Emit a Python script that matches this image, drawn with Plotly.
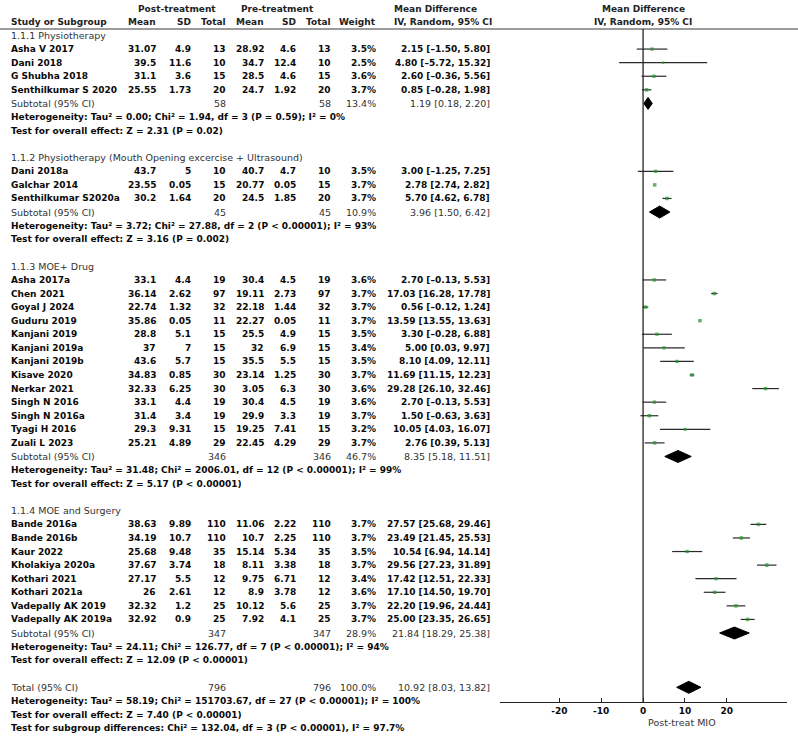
import plotly.graph_objects as go

W, H = 798, 738
FONT = "DejaVu Sans"
FS = 9

# ---------------- data ----------------
study = ["Asha V 2017", "Dani 2018", "G Shubha 2018", "Senthilkumar S 2020",
         "Dani 2018a", "Galchar 2014", "Senthilkumar S2020a",
         "Asha 2017a", "Chen 2021", "Goyal J 2024", "Guduru 2019", "Kanjani 2019",
         "Kanjani 2019a", "Kanjani 2019b", "Kisave 2020", "Nerkar 2021", "Singh N 2016",
         "Singh N 2016a", "Tyagi H 2016", "Zuali L 2023",
         "Bande 2016a", "Bande 2016b", "Kaur 2022", "Kholakiya 2020a", "Kothari 2021",
         "Kothari 2021a", "Vadepally AK 2019", "Vadepally AK 2019a"]
group = [0, 0, 0, 0,
         1, 1, 1,
         2, 2, 2, 2, 2, 2, 2, 2, 2, 2, 2, 2, 2,
         3, 3, 3, 3, 3, 3, 3, 3]
post_mean = [31.07, 39.5, 31.1, 25.55,
             43.7, 23.55, 30.2,
             33.1, 36.14, 22.74, 35.86, 28.8, 37, 43.6, 34.83, 32.33, 33.1, 31.4, 29.3, 25.21,
             38.63, 34.19, 25.68, 37.67, 27.17, 26, 32.32, 32.92]
post_sd = [4.9, 11.6, 3.6, 1.73,
           5, 0.05, 1.64,
           4.4, 2.62, 1.32, 0.05, 5.1, 7, 5.7, 0.85, 6.25, 4.4, 3.4, 9.31, 4.89,
           9.89, 10.7, 9.48, 3.74, 5.5, 2.61, 1.2, 0.9]
post_n = [13, 10, 15, 20,
          10, 15, 20,
          19, 97, 32, 11, 15, 15, 15, 30, 30, 19, 19, 15, 29,
          110, 110, 35, 18, 12, 12, 25, 25]
pre_mean = [28.92, 34.7, 28.5, 24.7,
            40.7, 20.77, 24.5,
            30.4, 19.11, 22.18, 22.27, 25.5, 32, 35.5, 23.14, 3.05, 30.4, 29.9, 19.25, 22.45,
            11.06, 10.7, 15.14, 8.11, 9.75, 8.9, 10.12, 7.92]
pre_sd = [4.6, 12.4, 4.6, 1.92,
          4.7, 0.05, 1.85,
          4.5, 2.73, 1.44, 0.05, 4.9, 6.9, 5.5, 1.25, 6.3, 4.5, 3.3, 7.41, 4.29,
          2.22, 2.25, 5.34, 3.38, 6.71, 3.78, 5.6, 4.1]
pre_n = [13, 10, 15, 20,
         10, 15, 20,
         19, 97, 32, 11, 15, 15, 15, 30, 30, 19, 19, 15, 29,
         110, 110, 35, 18, 12, 12, 25, 25]
weight = [3.5, 2.5, 3.6, 3.7,
          3.5, 3.7, 3.7,
          3.6, 3.7, 3.7, 3.7, 3.5, 3.4, 3.5, 3.7, 3.6, 3.6, 3.7, 3.2, 3.7,
          3.7, 3.7, 3.5, 3.7, 3.4, 3.6, 3.7, 3.7]
md = [2.15, 4.80, 2.60, 0.85,
      3.00, 2.78, 5.70,
      2.70, 17.03, 0.56, 13.59, 3.30, 5.00, 8.10, 11.69, 29.28, 2.70, 1.50, 10.05, 2.76,
      27.57, 23.49, 10.54, 29.56, 17.42, 17.10, 22.20, 25.00]
ci_lo = [-1.50, -5.72, -0.36, -0.28,
         -1.25, 2.74, 4.62,
         -0.13, 16.28, -0.12, 13.55, -0.28, 0.03, 4.09, 11.15, 26.10, -0.13, -0.63, 4.03, 0.39,
         25.68, 21.45, 6.94, 27.23, 12.51, 14.50, 19.96, 23.35]
ci_hi = [5.80, 15.32, 5.56, 1.98,
         7.25, 2.82, 6.78,
         5.53, 17.78, 1.24, 13.63, 6.88, 9.97, 12.11, 12.23, 32.46, 5.53, 3.63, 16.07, 5.13,
         29.46, 25.53, 14.14, 31.89, 22.33, 19.70, 24.44, 26.65]

sub_titles = ["1.1.1 Physiotherapy",
              "1.1.2 Physiotherapy (Mouth Opening excercise + Ultrasound)",
              "1.1.3 MOE+ Drug",
              "1.1.4 MOE and Surgery"]
sub_n_post = [58, 45, 346, 347]
sub_n_pre = [58, 45, 346, 347]
sub_weight = [13.4, 10.9, 46.7, 28.9]
sub_md = [1.19, 3.96, 8.35, 21.84]
sub_lo = [0.18, 1.50, 5.18, 18.29]
sub_hi = [2.20, 6.42, 11.51, 25.38]
sub_het = ["Heterogeneity: Tau² = 0.00; Chi² = 1.94, df = 3 (P = 0.59); I² = 0%",
           "Heterogeneity: Tau² = 3.72; Chi² = 27.88, df = 2 (P < 0.00001); I² = 93%",
           "Heterogeneity: Tau² = 31.48; Chi² = 2006.01, df = 12 (P < 0.00001); I² = 99%",
           "Heterogeneity: Tau² = 24.11; Chi² = 126.77, df = 7 (P < 0.00001); I² = 94%"]
sub_test = ["Test for overall effect: Z = 2.31 (P = 0.02)",
            "Test for overall effect: Z = 3.16 (P = 0.002)",
            "Test for overall effect: Z = 5.17 (P < 0.00001)",
            "Test for overall effect: Z = 12.09 (P < 0.00001)"]

total_n_post = 796
total_n_pre = 796
total_weight = 100.0
total_md = 10.92
total_lo = 8.03
total_hi = 13.82
total_het = "Heterogeneity: Tau² = 58.19; Chi² = 151703.67, df = 27 (P < 0.00001); I² = 100%"
total_test = "Test for overall effect: Z = 7.40 (P < 0.00001)"
subgroup_diff = "Test for subgroup differences: Chi² = 132.04, df = 3 (P < 0.00001), I² = 97.7%"

axis_ticks = [-20, -10, 0, 10, 20]
axis_title = "Post-treat MIO"

# ---------------- layout constants (pixels) ----------------
ROW0, ROWH = 35.5, 13.58
RULE_Y = 29
AXIS_Y = 702
X_NAME = 10
X_PM, X_PSD, X_PN = 157, 192, 227
X_QM, X_QSD, X_QN = 265, 297, 332
X_W = 377
X_CI = 491
X_CIH = 393
X0_PIX, X1_PIX = 500, 787
XMIN, XMAX = -34.2, 34.4
ZERO_PIX = 643

BLACK = "#0a0a0a"
GREY = "#333333"
FS_LIGHT = 9.5


def fmt(v):
    return f"{v:g}"


def fmt_ci(m, lo, hi):
    def f(v):
        return f"{v:.2f}".replace("-", "–")
    return f"{f(m)} [{f(lo)}, {f(hi)}]"


fig = go.Figure()


def txt(xpix, ypix, s, anchor="left", bold=False, color=BLACK, size=FS):
    fig.add_annotation(x=xpix / W, y=1 - ypix / H, xref="paper", yref="paper",
                       text=f"<b>{s}</b>" if bold else s, showarrow=False,
                       xanchor=anchor, yanchor="middle", borderpad=0,
                       font=dict(family=FONT, size=size, color=color))


def light(xpix, ypix, s, anchor="left"):
    txt(xpix, ypix, s, anchor, False, GREY, FS_LIGHT)


def heavy(xpix, ypix, s, anchor="left"):
    txt(xpix, ypix, s, anchor, True, BLACK, FS)


# ---------- build rows ----------
rows = []
for gi in range(len(sub_titles)):
    rows.append(("title", gi))
    for si, g in enumerate(group):
        if g == gi:
            rows.append(("study", si))
    rows.append(("subtotal", gi))
    rows.append(("het", gi))
    rows.append(("test", gi))
    rows.append(("blank", None))
rows += [("total", None), ("thet", None), ("ttest", None), ("tsub", None)]

ci_x, ci_y, mk_x, mk_y, mk_s = [], [], [], [], []
diamonds = []

for r, (kind, k) in enumerate(rows):
    y = ROW0 + r * ROWH
    if kind == "title":
        light(X_NAME, y, sub_titles[k])
    elif kind == "study":
        heavy(X_NAME, y, study[k])
        heavy(X_PM, y, fmt(post_mean[k]), "right")
        heavy(X_PSD, y, fmt(post_sd[k]), "right")
        heavy(X_PN, y, fmt(post_n[k]), "right")
        heavy(X_QM, y, fmt(pre_mean[k]), "right")
        heavy(X_QSD, y, fmt(pre_sd[k]), "right")
        heavy(X_QN, y, fmt(pre_n[k]), "right")
        heavy(X_W, y, f"{weight[k]:.1f}%", "right")
        heavy(X_CI, y, fmt_ci(md[k], ci_lo[k], ci_hi[k]), "right")
        ci_x += [ci_lo[k], ci_hi[k], None]
        ci_y += [y, y, None]
        mk_x.append(md[k]); mk_y.append(y); mk_s.append(weight[k] * 0.95)
    elif kind == "subtotal":
        light(X_NAME, y, "Subtotal (95% CI)")
        light(X_PN, y, fmt(sub_n_post[k]), "right")
        light(X_QN, y, fmt(sub_n_pre[k]), "right")
        light(X_W, y, f"{sub_weight[k]:.1f}%", "right")
        light(X_CI, y, fmt_ci(sub_md[k], sub_lo[k], sub_hi[k]), "right")
        diamonds.append((sub_md[k], sub_lo[k], sub_hi[k], y))
    elif kind == "het":
        heavy(X_NAME, y, sub_het[k])
    elif kind == "test":
        heavy(X_NAME, y, sub_test[k])
    elif kind == "total":
        light(X_NAME, y, "Total (95% CI)")
        light(X_PN, y, fmt(total_n_post), "right")
        light(X_QN, y, fmt(total_n_pre), "right")
        light(X_W, y, f"{total_weight:.1f}%", "right")
        light(X_CI, y, fmt_ci(total_md, total_lo, total_hi), "right")
        diamonds.append((total_md, total_lo, total_hi, y))
    elif kind == "thet":
        heavy(X_NAME, y, total_het)
    elif kind == "ttest":
        heavy(X_NAME, y, total_test)
    elif kind == "tsub":
        heavy(X_NAME, y, subgroup_diff)

# ---------- headers ----------
H1, H2 = 8.5, 22
HC = "#222222"
txt(177, H1, "Post-treatment", "center", True, HC)
txt(277, H1, "Pre-treatment", "center", True, HC)
txt(X_CIH, H1, "Mean Difference", "left", True, HC)
txt(ZERO_PIX, H1, "Mean Difference", "center", True, HC)
txt(X_NAME, H2, "Study or Subgroup", "left", True, HC)
txt(X_PM, H2, "Mean", "right", True, HC)
txt(X_PSD, H2, "SD", "right", True, HC)
txt(X_PN, H2, "Total", "right", True, HC)
txt(X_QM, H2, "Mean", "right", True, HC)
txt(X_QSD, H2, "SD", "right", True, HC)
txt(X_QN, H2, "Total", "right", True, HC)
txt(X_W, H2, "Weight", "right", True, HC)
txt(X_CIH, H2, "IV, Random, 95% CI", "left", True, HC)
txt(ZERO_PIX, H2, "IV, Random, 95% CI", "center", True, HC)

# axis title
txt(682, 722.5, axis_title, "center", color=GREY, size=9.5)

# ---------- forest marks ----------
fig.add_trace(go.Scatter(x=ci_x, y=ci_y, mode="lines",
                         line=dict(color="#2a2a2a", width=1.2),
                         hoverinfo="skip", cliponaxis=False))
fig.add_trace(go.Scatter(x=mk_x, y=mk_y, mode="markers",
                         marker=dict(symbol="square", size=mk_s, color="#22962a",
                                     line=dict(width=0)),
                         hoverinfo="skip", cliponaxis=False))
DH = 6
for m, lo, hi, y in diamonds:
    fig.add_trace(go.Scatter(x=[lo, m, hi, m, lo], y=[y, y - DH, y, y + DH, y],
                             mode="lines", fill="toself", fillcolor="black",
                             line=dict(color="black", width=1), hoverinfo="skip"))

# ---------- shapes ----------
fig.add_shape(type="line", xref="paper", yref="paper", x0=0, x1=1,
              y0=1 - RULE_Y / H, y1=1 - RULE_Y / H,
              line=dict(color="#7a7a7a", width=1.5))
fig.add_shape(type="line", xref="x", yref="y", x0=0, x1=0, y0=RULE_Y, y1=AXIS_Y,
              line=dict(color="#222222", width=1.3))

fig.update_layout(
    width=W, height=H,
    margin=dict(l=0, r=0, t=0, b=0),
    paper_bgcolor="white", plot_bgcolor="white",
    showlegend=False,
    xaxis=dict(domain=[X0_PIX / W, X1_PIX / W], range=[XMIN, XMAX],
               showline=True, linecolor="#222222", linewidth=1.3,
               ticks="inside", ticklen=4, tickcolor="#222222",
               tickvals=axis_ticks, ticktext=[str(t) for t in axis_ticks],
               tickfont=dict(family=FONT, size=9, color=BLACK, weight="bold"),
               showgrid=False, zeroline=False, anchor="y", fixedrange=True),
    yaxis=dict(domain=[(H - AXIS_Y) / H, 1], range=[AXIS_Y, 0], visible=False,
               showgrid=False, zeroline=False, fixedrange=True),
)

fig.write_html("out.html",
               config={"displayModeBar": False, "staticPlot": True},
               post_script="document.body.style.margin='0px';"
                           "document.body.style.overflow='hidden';")
